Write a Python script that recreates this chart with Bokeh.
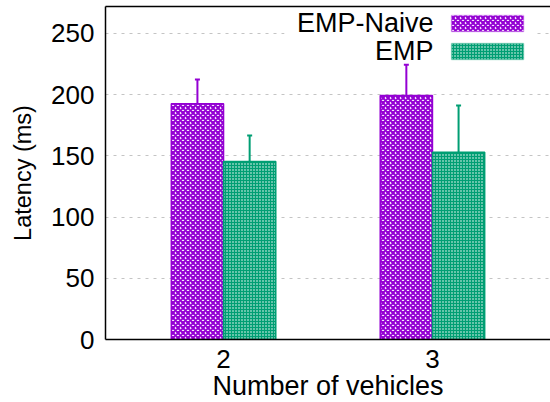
from bokeh.plotting import figure
from bokeh.models import (ColumnDataSource, Whisker, TeeHead, BoxAnnotation, Label,
                          LinearAxis, FixedTicker, Range1d)
from bokeh.embed import file_html
from bokeh.resources import INLINE

# Latency per number of vehicles (mean with min/max error bars)
vehicles = [2, 3]
naive_mean = [192.5, 199.3]
naive_low = [170.7, 173.5]
naive_high = [212.4, 224.4]
emp_mean = [145.4, 153.0]
emp_low = [121.7, 113.6]
emp_high = [166.7, 191.2]
y_ticks = [0, 50, 100, 150, 200, 250]

PURPLE = "#9400D3"
GREEN = "#009E73"
FONT = "Liberation Sans"
BAR_W = 0.25

naive_x = [v - BAR_W / 2 for v in vehicles]
emp_x = [v + BAR_W / 2 for v in vehicles]

naive_src = ColumnDataSource(dict(x=naive_x, top=naive_mean, lo=naive_low, hi=naive_high))
emp_src = ColumnDataSource(dict(x=emp_x, top=emp_mean, lo=emp_low, hi=emp_high))

p = figure(width=550, height=402, frame_width=445, frame_height=333,
           x_range=Range1d(1.435, 3.565), y_range=Range1d(0, 272),
           output_backend="svg", toolbar_location=None,
           min_border_left=105, min_border_right=0, min_border_top=6, min_border_bottom=63)
p.outline_line_color = None
p.background_fill_color = "white"

# bars
p.vbar(x="x", top="top", width=BAR_W, source=naive_src,
       fill_color="white", line_color=PURPLE, line_width=1.5,
       hatch_pattern="diagonal_cross", hatch_color=PURPLE, hatch_scale=5, hatch_weight=2.1)
p.vbar(x="x", top="top", width=BAR_W, source=emp_src,
       fill_color=GREEN, line_color=GREEN, line_width=1.5,
       hatch_pattern="dot", hatch_color="white", hatch_scale=3, hatch_weight=1)

# error bars
for src, col in ((naive_src, PURPLE), (emp_src, GREEN)):
    w = Whisker(base="x", upper="hi", lower="lo", source=src,
                line_color=col, line_width=2,
                upper_head=TeeHead(size=5, line_color=col, line_width=2),
                lower_head=TeeHead(size=5, line_color=col, line_width=2))
    p.add_layout(w)

# axes
p.xaxis.ticker = FixedTicker(ticks=vehicles)
p.yaxis.ticker = FixedTicker(ticks=y_ticks)
p.xaxis.axis_label = "Number of vehicles"
p.yaxis.axis_label = "Latency (ms)"
for ax in (p.xaxis, p.yaxis):
    ax.axis_line_color = "black"
    ax.axis_line_width = 1.5
    ax.major_tick_out = 0
    ax.major_tick_in = 0
    ax.minor_tick_out = 0
    ax.minor_tick_in = 0
    ax.major_label_text_font = FONT
    ax.major_label_text_font_size = "26px"
    ax.major_label_text_color = "black"
    ax.axis_label_text_font = FONT
    ax.axis_label_text_font_style = "normal"
    ax.axis_label_text_color = "black"
p.xaxis.axis_label_text_font_size = "27px"
p.yaxis.axis_label_text_font_size = "23.5px"
p.xaxis.major_label_standoff = 10
p.xaxis.axis_label_standoff = 0
p.yaxis.major_label_standoff = 11
p.yaxis.axis_label_standoff = 12

# top border line
top = LinearAxis(ticker=FixedTicker(ticks=[]), axis_line_color="black", axis_line_width=1.5,
                 major_tick_out=0, major_tick_in=0, minor_tick_out=0, minor_tick_in=0,
                 major_label_standoff=0, major_label_text_font_size="0px")
p.add_layout(top, "above")

# grid
p.xgrid.grid_line_color = None
p.ygrid.grid_line_color = "#c4c4c4"
p.ygrid.grid_line_dash = "3 5"
p.ygrid.grid_line_width = 1

# legend (text on the left, sample on the right)
p.add_layout(BoxAnnotation(left=2.292, right=3.498, bottom=226.5, top=272,
                           fill_color="white", fill_alpha=1, line_color=None, level="underlay"))
legend_items = [("EMP-Naive", 258.2, 264.7, 251.6, "white", PURPLE, "diagonal_cross", 5, 2.1, PURPLE),
                ("EMP", 235.3, 241.8, 228.8, GREEN, "white", "dot", 3, 1, GREEN)]
for name, ty, btop, bbot, fill, hcol, hpat, hscale, hweight, lcol in legend_items:
    p.add_layout(Label(x=3.005, y=ty, text=name, text_align="right", text_baseline="middle",
                       text_font=FONT, text_font_size="27px", text_color="black"))
    p.add_layout(BoxAnnotation(left=3.0914, right=3.436, bottom=bbot, top=btop,
                               fill_color=fill, fill_alpha=1, line_color=lcol, line_width=1.5,
                               hatch_pattern=hpat, hatch_color=hcol, hatch_scale=hscale,
                               hatch_weight=hweight))

open("out.html", "w").write(file_html(p, INLINE))
